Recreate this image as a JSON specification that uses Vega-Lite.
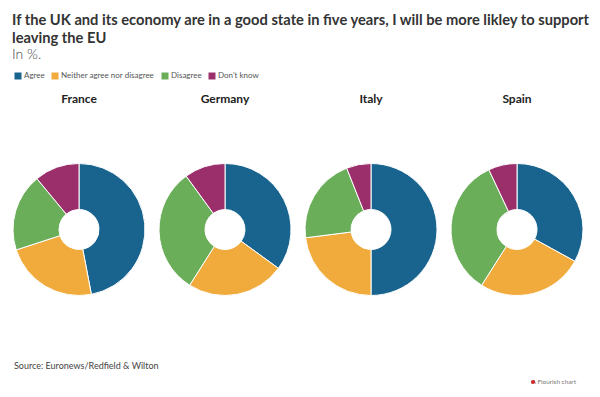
{
  "$schema": "https://vega.github.io/schema/vega-lite/v6.json",
  "background": "white",
  "padding": {"left": 11, "top": 13, "right": 6, "bottom": 4},
  "spacing": 13,
  "title": {
    "text": ["If the UK and its economy are in a good state in five years, I will be more likley to support", "leaving the EU"],
    "subtitle": "In %.",
    "anchor": "start",
    "dx": 1,
    "font": "Lato",
    "fontSize": 14.7,
    "fontWeight": "bold",
    "color": "#333333",
    "lineHeight": 18,
    "subtitleFont": "Lato",
    "subtitleFontSize": 14,
    "subtitleFontWeight": 300,
    "subtitleColor": "#444444",
    "subtitlePadding": 2,
    "offset": 10
  },
  "config": {"view": {"stroke": null}},
  "vconcat": [
    {
      "data": {
        "values": [
          {"country": "France", "answer": "Agree", "value": 47, "k": 1},
          {"country": "France", "answer": "Neither agree nor disagree", "value": 23, "k": 2},
          {"country": "France", "answer": "Disagree", "value": 19, "k": 3},
          {"country": "France", "answer": "Don't know", "value": 11, "k": 4},
          {"country": "Germany", "answer": "Agree", "value": 35, "k": 1},
          {"country": "Germany", "answer": "Neither agree nor disagree", "value": 24, "k": 2},
          {"country": "Germany", "answer": "Disagree", "value": 31, "k": 3},
          {"country": "Germany", "answer": "Don't know", "value": 10, "k": 4},
          {"country": "Italy", "answer": "Agree", "value": 50, "k": 1},
          {"country": "Italy", "answer": "Neither agree nor disagree", "value": 23, "k": 2},
          {"country": "Italy", "answer": "Disagree", "value": 21, "k": 3},
          {"country": "Italy", "answer": "Don't know", "value": 6, "k": 4},
          {"country": "Spain", "answer": "Agree", "value": 33, "k": 1},
          {"country": "Spain", "answer": "Neither agree nor disagree", "value": 26, "k": 2},
          {"country": "Spain", "answer": "Disagree", "value": 34, "k": 3},
          {"country": "Spain", "answer": "Don't know", "value": 7, "k": 4}
        ]
      },
      "facet": {
        "column": {
          "field": "country",
          "type": "nominal",
          "sort": ["France", "Germany", "Italy", "Spain"],
          "header": {
            "title": null,
            "labelFont": "Lato",
            "labelFontSize": 12,
            "labelFontWeight": "bold",
            "labelColor": "#222222",
            "labelPadding": 4
          }
        }
      },
      "spacing": 10,
      "spec": {
        "width": 132,
        "height": 239,
        "mark": {"type": "arc", "outerRadius": 66, "innerRadius": 20, "stroke": "white", "strokeWidth": 1},
        "encoding": {
          "theta": {"field": "value", "type": "quantitative", "stack": true},
          "order": {"field": "k", "type": "quantitative"},
          "color": {
            "field": "answer",
            "type": "nominal",
            "scale": {
              "domain": ["Agree", "Neither agree nor disagree", "Disagree", "Don't know"],
              "range": ["#18648f", "#f1ab3d", "#6aae59", "#9a2f6c"]
            },
            "legend": {
              "title": null,
              "orient": "top",
              "direction": "horizontal",
              "symbolType": "square",
              "symbolSize": 49,
              "symbolStrokeWidth": 0,
              "labelFont": "Lato",
              "labelFontSize": 8,
              "labelColor": "#555555",
              "columnPadding": 5,
              "symbolOffset": 1,
              "labelOffset": 2,
              "offset": 13
            }
          },
          "tooltip": [{"field": "answer"}, {"field": "value"}]
        }
      }
    },
    {
      "width": 580,
      "height": 30,
      "data": {"values": [{"source": "Source: Euronews/Redfield & Wilton", "brand": "A Flourish chart"}]},
      "layer": [
        {
          "mark": {"type": "text", "align": "left", "baseline": "middle", "font": "Lato", "fontSize": 9, "color": "#444444", "dx": 1},
          "encoding": {"text": {"field": "source"}, "x": {"value": 0}, "y": {"value": 4}}
        },
        {
          "mark": {"type": "text", "align": "right", "baseline": "middle", "font": "Lato", "fontSize": 6.4, "color": "#777777"},
          "encoding": {"text": {"field": "brand"}, "x": {"value": 563}, "y": {"value": 20}}
        },
        {
          "mark": {"type": "point", "filled": true, "size": 18, "opacity": 1, "color": "#d12a2a"},
          "encoding": {"x": {"value": 520}, "y": {"value": 20}}
        }
      ]
    }
  ]
}
